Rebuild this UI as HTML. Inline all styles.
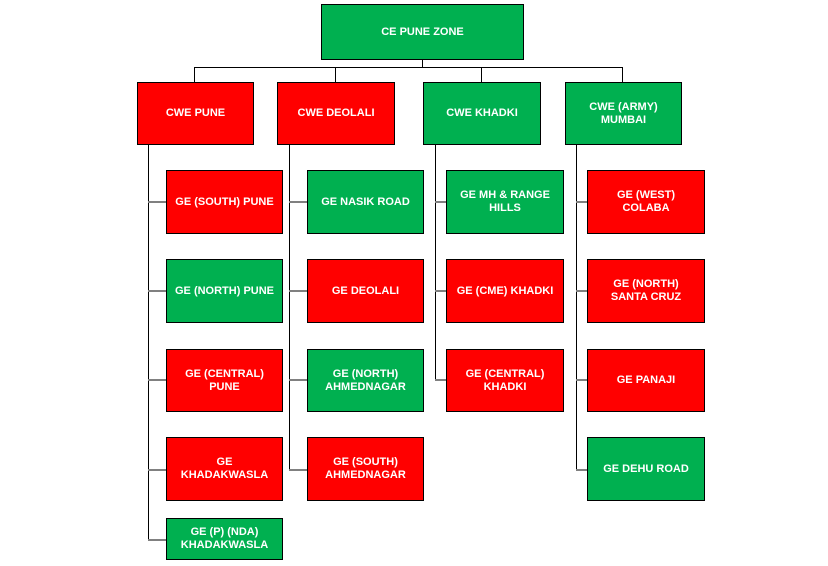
<!DOCTYPE html><html><head><style>
body{margin:0;width:828px;height:566px;background:#fff;position:relative;overflow:hidden;font-family:"Liberation Sans",Arial,sans-serif}
.b{position:absolute;box-sizing:border-box;border:1px solid #000;color:#fff;font-size:11px;font-weight:bold;display:flex;align-items:center;justify-content:center;text-align:center;line-height:13px}
.r{background:#ff0000}.g{background:#00b050}
.l{position:absolute;background:#000}
.h{position:absolute;height:2px;background:#808080}
</style></head><body>
<div class="l" style="left:422px;top:59px;width:1px;height:9px"></div>
<div class="l" style="left:194px;top:67px;width:428px;height:1px"></div>
<div class="l" style="left:194px;top:67px;width:1px;height:15px"></div>
<div class="l" style="left:335px;top:67px;width:1px;height:15px"></div>
<div class="l" style="left:481px;top:67px;width:1px;height:15px"></div>
<div class="l" style="left:622px;top:67px;width:1px;height:15px"></div>
<div class="b g" style="left:321px;top:4px;width:203px;height:56px">CE PUNE ZONE</div>
<div class="b r" style="left:137px;top:82px;width:117px;height:63px">CWE PUNE</div>
<div class="b r" style="left:277px;top:82px;width:118px;height:63px">CWE DEOLALI</div>
<div class="b g" style="left:423px;top:82px;width:118px;height:63px">CWE KHADKI</div>
<div class="b g" style="left:565px;top:82px;width:117px;height:63px">CWE (ARMY)<br>MUMBAI</div>
<div class="l" style="left:148px;top:145px;width:1px;height:395px"></div>
<div class="l" style="left:289px;top:145px;width:1px;height:325px"></div>
<div class="l" style="left:435px;top:145px;width:1px;height:236px"></div>
<div class="l" style="left:576px;top:145px;width:1px;height:325px"></div>
<div class="h" style="left:148px;top:201px;width:18px"></div>
<div class="h" style="left:148px;top:290px;width:18px"></div>
<div class="h" style="left:148px;top:379px;width:18px"></div>
<div class="h" style="left:148px;top:469px;width:18px"></div>
<div class="h" style="left:148px;top:539px;width:18px"></div>
<div class="h" style="left:289px;top:201px;width:18px"></div>
<div class="h" style="left:289px;top:290px;width:18px"></div>
<div class="h" style="left:289px;top:379px;width:18px"></div>
<div class="h" style="left:289px;top:469px;width:18px"></div>
<div class="h" style="left:435px;top:201px;width:11px"></div>
<div class="h" style="left:435px;top:290px;width:11px"></div>
<div class="h" style="left:435px;top:379px;width:11px"></div>
<div class="h" style="left:576px;top:201px;width:11px"></div>
<div class="h" style="left:576px;top:290px;width:11px"></div>
<div class="h" style="left:576px;top:379px;width:11px"></div>
<div class="h" style="left:576px;top:469px;width:11px"></div>
<div class="b r" style="left:166px;top:170px;width:117px;height:64px">GE (SOUTH) PUNE</div>
<div class="b g" style="left:166px;top:259px;width:117px;height:64px">GE (NORTH) PUNE</div>
<div class="b r" style="left:166px;top:349px;width:117px;height:63px">GE (CENTRAL)<br>PUNE</div>
<div class="b r" style="left:166px;top:437px;width:117px;height:64px">GE<br>KHADAKWASLA</div>
<div class="b g" style="left:166px;top:518px;width:117px;height:42px">GE (P) (NDA)<br>KHADAKWASLA</div>
<div class="b g" style="left:307px;top:170px;width:117px;height:64px">GE NASIK ROAD</div>
<div class="b r" style="left:307px;top:259px;width:117px;height:64px">GE DEOLALI</div>
<div class="b g" style="left:307px;top:349px;width:117px;height:63px">GE (NORTH)<br>AHMEDNAGAR</div>
<div class="b r" style="left:307px;top:437px;width:117px;height:64px">GE (SOUTH)<br>AHMEDNAGAR</div>
<div class="b g" style="left:446px;top:170px;width:118px;height:64px">GE MH &amp; RANGE<br>HILLS</div>
<div class="b r" style="left:446px;top:259px;width:118px;height:64px">GE (CME) KHADKI</div>
<div class="b r" style="left:446px;top:349px;width:118px;height:63px">GE (CENTRAL)<br>KHADKI</div>
<div class="b r" style="left:587px;top:170px;width:118px;height:64px">GE (WEST)<br>COLABA</div>
<div class="b r" style="left:587px;top:259px;width:118px;height:64px">GE (NORTH)<br>SANTA CRUZ</div>
<div class="b r" style="left:587px;top:349px;width:118px;height:63px">GE PANAJI</div>
<div class="b g" style="left:587px;top:437px;width:118px;height:64px">GE DEHU ROAD</div>
</body></html>
